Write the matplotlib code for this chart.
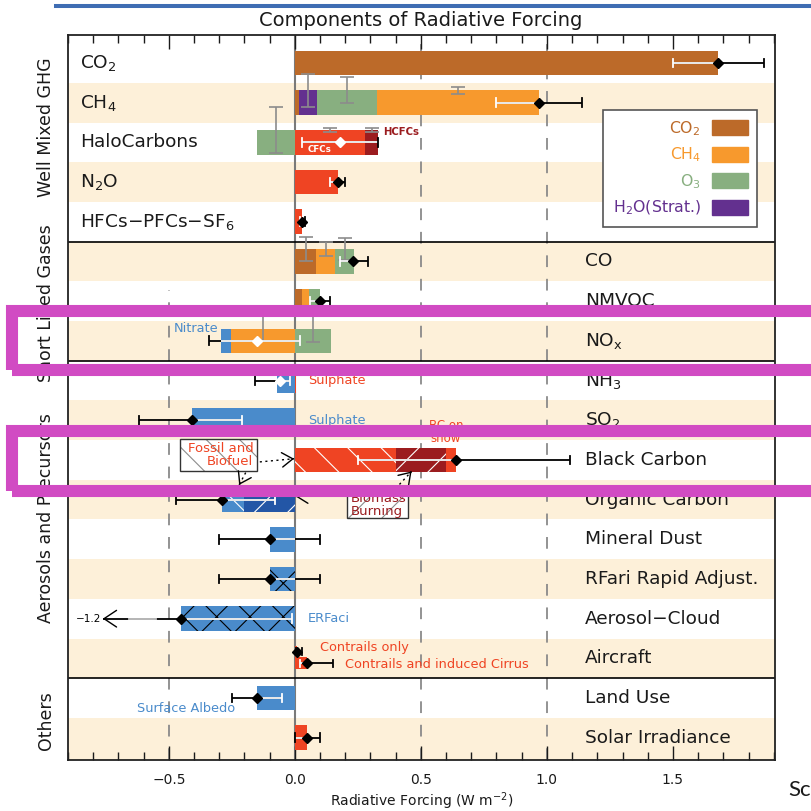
import numpy as np
import matplotlib.pyplot as plt
from matplotlib.patches import Patch, Rectangle
from matplotlib.lines import Line2D

plt.rcParams['font.family'] = 'DejaVu Sans'
plt.rcParams['mathtext.default'] = 'regular'
plt.rcParams['hatch.linewidth'] = 0.8

# row labels, top to bottom
rows = ['CO$_2$', 'CH$_4$', 'HaloCarbons', 'N$_2$O', 'HFCs\u2212PFCs\u2212SF$_6$',
        'CO', 'NMVOC', 'NO$_x$', 'NH$_3$', 'SO$_2$', 'Black Carbon',
        'Organic Carbon', 'Mineral Dust', 'RFari Rapid Adjust.',
        'Aerosol\u2212Cloud', 'Aircraft', 'Land Use', 'Solar Irradiance']
n_left = 5  # the well mixed gases are labelled inside the left part

groups = ['Well Mixed GHG', 'Short Lived Gases', 'Aerosols and Precursors', 'Others']
group_ypix = [127, 303, 518, 721]
group_breaks = [4.5, 7.5, 15.5]

# stacked pieces per row, built outward from zero in the listed order
seg_row = [0,
           1, 1, 1, 1,
           2, 2, 2,
           3, 4,
           5, 5, 5,
           6, 6, 6,
           7, 7, 7,
           8, 8, 9,
           10, 10, 10,
           11, 11,
           12, 13, 14, 16, 17]
seg_kind = ['CO2',
            'CO2', 'H2O', 'O3', 'CH4',
            'O3', 'CFC', 'HCFC',
            'red', 'red',
            'CO2', 'CH4', 'O3',
            'CO2', 'CH4', 'O3',
            'CH4', 'aer', 'O3',
            'aer', 'red', 'aer',
            'BCfossil', 'BCbio', 'red',
            'OCbio', 'OCfossil',
            'aer', 'aerX', 'aerX', 'aer', 'red']
seg_val = [1.68,
           0.017, 0.07, 0.24, 0.64,
           -0.15, 0.28, 0.05,
           0.17, 0.03,
           0.085, 0.075, 0.075,
           0.03, 0.027, 0.043,
           -0.254, -0.04, 0.143,
           -0.07, 0.006, -0.41,
           0.40, 0.20, 0.04,
           -0.20, -0.09,
           -0.10, -0.10, -0.45, -0.15, 0.05]
# uncertainty of single components (grey I marks)
seg_unc = [0,
           0, 0.42, 0.33, 0.08,
           0.59, 0.06, 0.06,
           0, 0,
           0.31, 0.18, 0.28,
           0, 0, 0,
           0.32, 0, 0.33,
           0, 0, 0,
           0, 0, 0,
           0, 0,
           0, 0, 0, 0, 0]

# total forcing with 5-95% range (aircraft handled below)
net = [1.68, 0.97, 0.18, 0.17, 0.03, 0.23, 0.10, -0.15, -0.06, -0.41,
       0.64, -0.29, -0.10, -0.10, -0.45, np.nan, -0.15, 0.05]
net_lo = [1.50, 0.80, 0.03, 0.14, 0.02, 0.18, 0.06, -0.34, -0.16, -0.62,
          0.25, -0.47, -0.30, -0.30, -1.2, np.nan, -0.25, 0.00]
net_hi = [1.86, 1.14, 0.33, 0.20, 0.04, 0.29, 0.14, 0.02, -0.02, -0.21,
          1.09, -0.08, 0.10, 0.10, -0.01, np.nan, -0.05, 0.10]

air_label = ['Contrails only', 'Contrails and induced Cirrus']
air_val = [0.01, 0.05]
air_lo = [0.003, 0.02]
air_hi = [0.03, 0.15]

legend_keys = ['CO2', 'CH4', 'O3', 'H2O']
legend_labels = ['CO$_2$', 'CH$_4$', 'O$_3$', 'H$_2$O(Strat.)']

RED = '#EF4423'
DARKRED = '#9B1C1F'
BLUE = '#4A8BCB'
kind_color = {'CO2': '#BC6A29', 'CH4': '#F7992D', 'O3': '#88AF80', 'H2O': '#63308F',
              'red': RED, 'CFC': RED, 'HCFC': DARKRED, 'BCfossil': RED,
              'BCbio': DARKRED, 'aer': BLUE, 'aerX': BLUE, 'OCfossil': BLUE,
              'OCbio': '#2356A6'}
kind_hatch = {'BCfossil': ('\\', 'white'), 'BCbio': ('/', 'white'),
              'OCfossil': ('\\', 'white'), 'OCbio': ('/', 'white'),
              'aerX': ('x', 'black')}
BAND = '#FDF0D9'
BAR_H = 0.62


def whisker(ax, y, lo, hi, mid, bar_lo, bar_hi, cap=0.11, stop=None):
    # black outside the bar, white where it runs over the bar
    lo_end = lo if stop is None else stop
    ax.plot([lo_end, hi], [y, y], color='black', lw=1.3, zorder=4, solid_capstyle='butt')
    a, b = max(lo, bar_lo), min(hi, bar_hi)
    if b > a:
        ax.plot([a, b], [y, y], color='white', lw=1.3, zorder=4.1, solid_capstyle='butt')
    inside = lambda x: bar_lo + 0.005 < x < bar_hi - 0.005
    ends = (hi,) if stop is not None else (lo, hi)
    for x in ends:
        c = 'white' if inside(x) else 'black'
        ax.plot([x, x], [y - cap, y + cap], color=c, lw=1.3, zorder=4.2)
    c = 'white' if inside(mid) else 'black'
    ax.plot(mid, y, marker='D', ms=5, color=c, mec=c, zorder=5)


def head(ax, tip, frm, scale=13):
    ax.annotate('', xy=tip, xytext=frm,
                arrowprops=dict(arrowstyle='->,head_length=0.6,head_width=0.4',
                                lw=1, color='black', shrinkA=0, shrinkB=0,
                                mutation_scale=scale), zorder=6)


def dotted_arrow(ax, start, tip):
    ax.plot([start[0], tip[0]], [start[1], tip[1]], color='black', lw=1,
            ls=(0, (1.5, 2.5)), zorder=6)
    frm = (tip[0] - (tip[0] - start[0]) * 0.05, tip[1] - (tip[1] - start[1]) * 0.05)
    head(ax, tip, frm)


fig = plt.figure(figsize=(8.12, 8.11), dpi=100)
ax = fig.add_axes([68 / 812, 51 / 811, 707 / 812, 725 / 811])
ax.set_xlim(-0.9, 1.905)
ax.set_ylim(17.56, -0.705)

# alternating background bands
for i in range(1, len(rows), 2):
    hi = ax.get_ylim()[0] if i == len(rows) - 1 else i + 0.5
    ax.axhspan(i - 0.5, hi, color=BAND, lw=0, zorder=0)

for xv in (0.5, 1.0):
    ax.axvline(xv, color='#8a8a8a', lw=1.3, ls=(0, (6.5, 6.5)), zorder=1)
ax.axvline(-0.5, ymax=0.648, color='#8a8a8a', lw=1.3, ls=(0, (6.5, 6.5)), zorder=1)
ax.axvline(0, color='#7a7a7a', lw=1.5, zorder=1.5)
for yv in group_breaks:
    ax.axhline(yv, color='black', lw=1.2, zorder=1.6)

# stacked bars
pos_acc = np.zeros(len(rows))
neg_acc = np.zeros(len(rows))
for r, k, v, u in zip(seg_row, seg_kind, seg_val, seg_unc):
    acc = pos_acc if v >= 0 else neg_acc
    left = acc[r]
    hatch, hcol = kind_hatch.get(k, (None, None))
    ax.barh(r, v, left=left, height=BAR_H, color=kind_color[k],
            edgecolor=hcol or kind_color[k], hatch=hatch, lw=0, zorder=2)
    if u:
        ax.errorbar(left + v / 2, r - BAR_H / 2, yerr=u, fmt='none', ecolor='#8c8c8c',
                    elinewidth=1.2, capsize=5, capthick=1.2, zorder=3)
    acc[r] += v

xmin = ax.get_xlim()[0]
for i in range(len(rows)):
    if np.isnan(net[i]):
        continue
    if net_lo[i] < xmin:
        # off-scale range: arrow with the value written next to it
        tip = xmin + 0.138
        whisker(ax, i, net_lo[i], net_hi[i], net[i], neg_acc[i], pos_acc[i], stop=tip)
        ax.plot([tip + 0.105, tip + 0.21], [i, i], color='#c8c8c8', lw=1.3, zorder=4.3)
        head(ax, (tip, i), (tip + 0.01, i), scale=15)
        ax.text(tip - 0.008, i, '\u2212%.1f' % abs(net_lo[i]), ha='right', va='center',
                fontsize=7.5, color='black', zorder=6)
    else:
        whisker(ax, i, net_lo[i], net_hi[i], net[i], neg_acc[i], pos_acc[i])

# aircraft: two small bars
ac = rows.index('Aircraft')
for off, v, lo, hi in zip((-0.17, 0.12), air_val, air_lo, air_hi):
    ax.barh(ac + off, v, height=0.3, color=RED, lw=0, zorder=2)
    whisker(ax, ac + off, lo, hi, v, 0, v, cap=0.09)
ax.text(0.1, ac - 0.28, air_label[0], color=RED, fontsize=9.3, va='center')
ax.text(0.2, ac + 0.16, air_label[1], color=RED, fontsize=9.3, va='center')

# row labels
for i, lab in enumerate(rows):
    x = -0.853 if i < n_left else 1.151
    ax.text(x, i, lab, ha='left', va='center', fontsize=13.3, color='#1a1a1a', zorder=6)

# annotations
ax.text(0.35, 1.74, 'HCFCs', color=DARKRED, fontsize=7.3, fontweight='bold', va='center')
ax.text(0.10, 2.17, 'CFCs', color='white', fontsize=6.3, fontweight='bold',
        ha='center', va='center', zorder=6)
ax.text(-0.305, 6.70, 'Nitrate', color=BLUE, fontsize=9.3, ha='right', va='center')
ax.text(0.052, 8, 'Sulphate', color=RED, fontsize=9.3, va='center')
ax.text(0.052, 9, 'Sulphate', color=BLUE, fontsize=9.3, va='center')
ax.text(0.6, 9.62, 'BC on\nsnow', color=RED, fontsize=8.5, ha='center', va='bottom',
        linespacing=1.0)
ax.text(0.052, 14, 'ERFaci', color=BLUE, fontsize=9.3, va='center')
ax.text(-0.43, 16.27, 'Surface Albedo', color=BLUE, fontsize=9.3, ha='center', va='center')

# source boxes for fossil / biomass aerosol
ax.add_patch(Rectangle((-0.456, 9.47), 0.306, 0.81, facecolor='white',
                       edgecolor='#8c8c8c', hatch='\\', lw=0, zorder=5))
ax.add_patch(Rectangle((-0.456, 9.47), 0.306, 0.81, fill=False,
                       edgecolor='#333333', lw=1, zorder=5.1))
ax.text(-0.165, 9.875, 'Fossil and\nBiofuel', color=RED, fontsize=9.5, ha='right',
        va='center', linespacing=1.05, zorder=5.2)
ax.add_patch(Rectangle((0.206, 10.80), 0.242, 0.66, facecolor='white',
                       edgecolor='#8c8c8c', hatch='/', lw=0, zorder=5))
ax.add_patch(Rectangle((0.206, 10.80), 0.242, 0.66, fill=False,
                       edgecolor='#333333', lw=1, zorder=5.1))
ax.text(0.222, 11.13, 'Biomass\nBurning', color=DARKRED, fontsize=9.5, ha='left',
        va='center', linespacing=1.05, zorder=5.2)

dotted_arrow(ax, (-0.139, 10.05), (-0.003, 9.97))
dotted_arrow(ax, (-0.195, 10.32), (-0.221, 10.63))
dotted_arrow(ax, (0.205, 10.88), (0.003, 10.92))
dotted_arrow(ax, (0.40, 10.72), (0.463, 10.29))

# axes styling
ax.set_yticks([])
ax.set_xticks(np.arange(-0.5, 1.6, 0.5))
ax.set_xticks(np.arange(-0.9, 1.91, 0.1), minor=True)
ax.tick_params(axis='x', which='both', direction='in', top=True, bottom=True,
               labelsize=10, pad=9, colors='#1a1a1a')
ax.tick_params(axis='x', which='major', length=10, width=1)
ax.tick_params(axis='x', which='minor', length=5.5, width=1)
for s in ax.spines.values():
    s.set_linewidth(1.3)
    s.set_color('#222222')
ax.set_xlabel('Radiative Forcing (W m$^{-2}$)', fontsize=10, labelpad=3, color='#1a1a1a')

handles = [Patch(facecolor=kind_color[k], edgecolor=kind_color[k]) for k in legend_keys]
leg = ax.legend(handles, legend_labels, markerfirst=False, loc='upper right',
                bbox_to_anchor=(0.975, 0.897), borderaxespad=0, fontsize=11.3,
                labelcolor=[kind_color[k] for k in legend_keys],
                frameon=True, fancybox=False, framealpha=1, edgecolor='#555555',
                handlelength=2.3, handleheight=1.1, labelspacing=0.5,
                borderpad=0.6, handletextpad=0.7)
leg.get_frame().set_linewidth(1.2)
leg.set_zorder(7)

fig.text(0.5185, 1 - 20 / 811, 'Components of Radiative Forcing', ha='center',
         va='center', fontsize=14, color='#1a1a1a')
for g, yp in zip(groups, group_ypix):
    fig.text(46 / 812, 1 - yp / 811, g, rotation=90, ha='center', va='center',
             fontsize=12.5, color='#1a1a1a')

# highlight frames drawn over the figure
for top, bot in ((311, 369.5), (431, 490.5)):
    fig.add_artist(Rectangle((12 / 812, 1 - bot / 811), (813 - 12) / 812, (bot - top) / 811,
                             transform=fig.transFigure, fill=False,
                             edgecolor='#D14BC3', lw=8.7, joinstyle='miter', zorder=20))
fig.add_artist(Line2D([56 / 812, 1], [1 - 6 / 811] * 2, transform=fig.transFigure,
                      color='#3F6DB3', lw=2.9, zorder=20))
fig.text(788 / 812, 1 - 790 / 811, 'Sc', fontsize=16, family='Lato', ha='left',
         va='center', color='#1a1a1a')

fig.savefig('out.png', dpi=100)
